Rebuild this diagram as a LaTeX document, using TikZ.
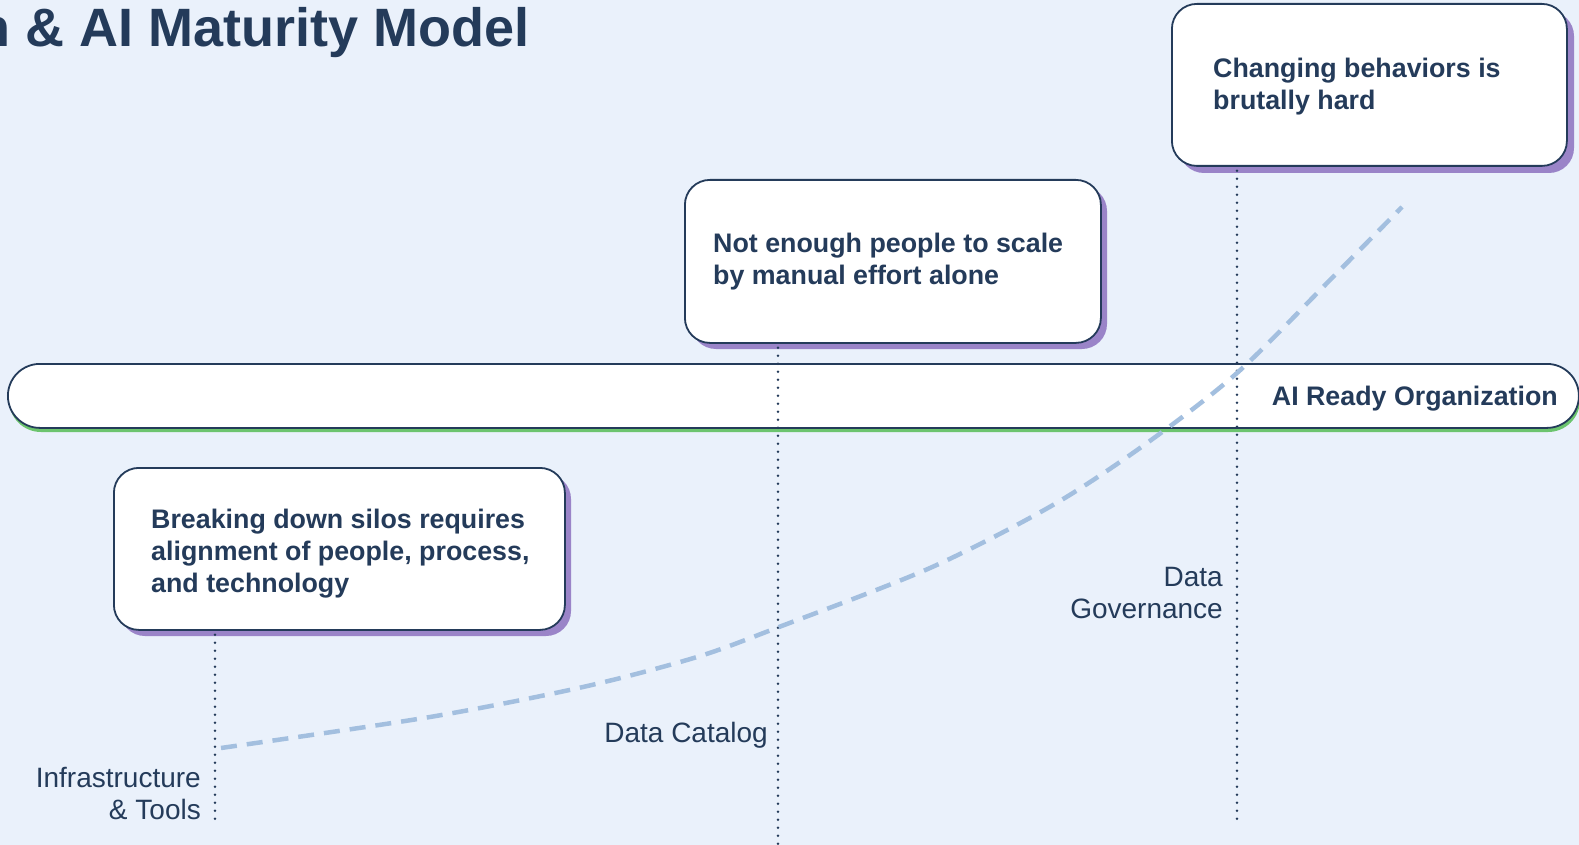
\documentclass[tikz,border=0pt]{standalone}
\usepackage{fontspec}
\setmainfont{Liberation Sans}
\definecolor{bg}{HTML}{EAF1FB}
\definecolor{navy}{HTML}{243B5A}
\definecolor{shpurple}{HTML}{9A84C8}
\definecolor{shgreen}{HTML}{6CC46E}
\definecolor{curveblue}{HTML}{A3BFDF}
\begin{document}
\begin{tikzpicture}[x=1pt,y=-1pt,
  card/.style={draw=navy, line width=1.8pt, fill=white, rounded corners=25pt, inner sep=0pt, anchor=north west},
  cardshadow/.style={fill=shpurple, rounded corners=25pt},
  barbox/.style={draw=navy, line width=1.8pt, fill=white, rounded corners=32pt, inner sep=0pt, anchor=north west},
  cardtext/.style={font=\fontsize{26.8}{32}\selectfont\bfseries, text=navy, inner sep=0pt},
  labeltext/.style={font=\fontsize{28}{32}\selectfont, text=navy, inner sep=0pt, anchor=base east},
  dotline/.style={draw=navy, line width=2.7pt, line cap=round, dash pattern=on 0pt off 8pt, dash phase=4pt},
  growth/.style={draw=curveblue, line width=4.5pt, dash pattern=on 16pt off 10pt}]
\useasboundingbox (0,0) rectangle (1579,845);
\fill[bg] (0,0) rectangle (1579,845);

% title (clipped at the left edge, as in the reference)
\node[anchor=base east, font=\fontsize{54}{60}\selectfont\bfseries, text=navy, inner sep=0pt] (title) at (530,47) {n \& AI Maturity Model};

% AI ready bar
\fill[shgreen, rounded corners=32pt] (9,368) rectangle (1580,432);
\node[barbox, minimum width=1571pt, minimum height=64pt] (bar) at (7,363) {};
\node[cardtext, anchor=base east] (barlabel) at (1558,405) {AI Ready Organization};

% cards
\fill[cardshadow] (1179,11) rectangle (1574,173);
\node[card, minimum width=395pt, minimum height=162pt] (b1) at (1171,3) {};
\node[cardtext, anchor=base west] (t1) at (1213,78) {\begin{tabular}[t]{@{}l@{}}Changing behaviors is\\brutally hard\end{tabular}};

\fill[cardshadow] (691,186) rectangle (1107,349);
\node[card, minimum width=416pt, minimum height=163pt] (b2) at (684,179) {};
\node[cardtext, anchor=base west] (t2) at (713,252) {\begin{tabular}[t]{@{}l@{}}Not enough people to scale\\by manual effort alone\end{tabular}};

\fill[cardshadow] (120,474) rectangle (571,636);
\node[card, minimum width=451pt, minimum height=162pt] (b3) at (113,467) {};
\node[cardtext, anchor=base west] (t3) at (151,528) {\begin{tabular}[t]{@{}l@{}}Breaking down silos requires\\alignment of people, process,\\and technology\end{tabular}};

% dotted stage lines
\coordinate (d1) at (215,822);
\coordinate (d2) at (778,845);
\coordinate (d3) at (1237,823);
\draw[dotline] (b3.south -| d1) -- (d1);
\draw[dotline] (b2.south -| d2) -- (d2);
\draw[dotline] (b1.south -| d3) -- (d3);

% growth curve
\draw[growth] plot[smooth, tension=0.5] coordinates {(221,748) (430,717) (583,687) (697,657) (779,627) (930,568) (1053,505) (1147,443) (1237,373) (1330,280) (1402,207)};

% stage labels
\node[labeltext] (l1) at (201,787) {\begin{tabular}[t]{@{}r@{}}Infrastructure\\\& Tools\end{tabular}};
\node[labeltext] (l2) at (768,742) {Data Catalog};
\node[labeltext] (l3) at (1223,586) {\begin{tabular}[t]{@{}r@{}}Data\\Governance\end{tabular}};
\end{tikzpicture}
\end{document}
